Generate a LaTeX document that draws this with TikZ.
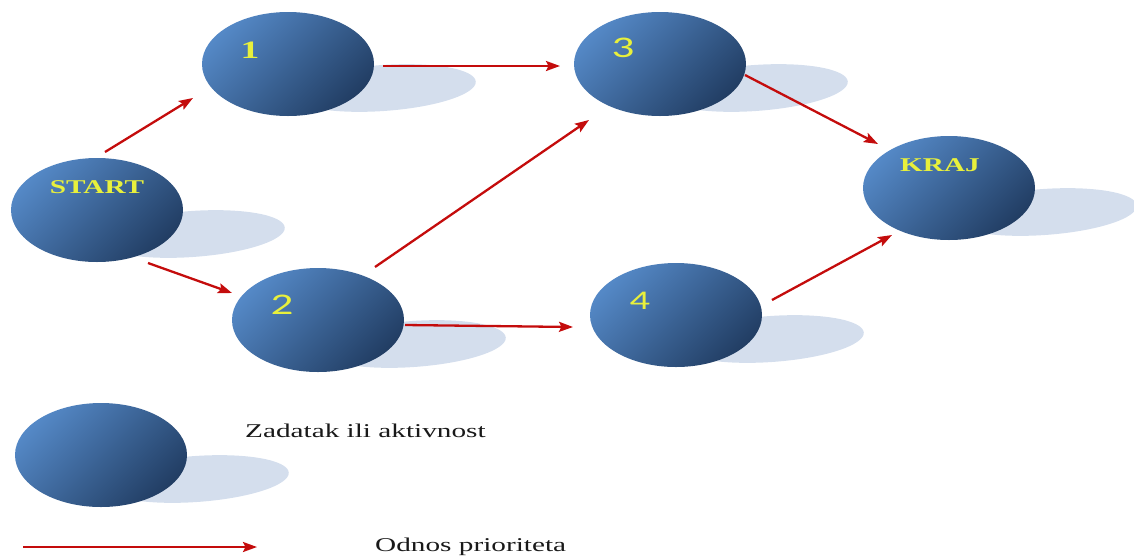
\documentclass[tikz,border=0pt]{standalone}
\usepackage{fontspec}
\setmainfont{Liberation Serif}
\newfontfamily\digitfont{Carlito}
\usetikzlibrary{arrows.meta,calc,shapes.geometric,backgrounds}
\definecolor{ballhi}{RGB}{84,136,198}
\definecolor{balllo}{RGB}{34,62,100}
\definecolor{shadowc}{RGB}{212,222,237}
\definecolor{arrowc}{RGB}{196,12,12}
\definecolor{lblc}{RGB}{232,240,60}
\definecolor{txtc}{RGB}{25,25,25}
\newcommand{\wide}[1]{\scalebox{1.5}[1]{#1}}
\begin{document}
\begin{tikzpicture}[x=1pt,y=-1pt,
  ball/.style={ellipse, inner sep=0pt, outer sep=0pt, minimum width=172pt,
    minimum height=104pt, top color=ballhi, bottom color=balllo, shading angle=45},
  shadowblob/.style={ellipse, inner sep=0pt, outer sep=0pt, fill=shadowc,
    minimum width=186pt, minimum height=46pt, rotate=4},
  lbl/.style={inner sep=0pt, text=lblc, font=\fontsize{19.5}{22}\selectfont\bfseries},
  numlbl/.style={inner sep=0pt, text=lblc, font=\fontsize{30}{32}\selectfont\digitfont},
  legtxt/.style={inner sep=0pt, anchor=base west, text=txtc, font=\fontsize{19.5}{22}\selectfont},
  arr/.style={draw=arrowc, line width=2.3pt, -{Stealth[length=14pt,width=10pt,inset=2.5pt]}}
]
\useasboundingbox (0,0) rectangle (1134,555);

% nodes
\node[ball] (s) at (97,210) {};
\node[ball] (n1) at (288,64) {};
\node[ball] (n3) at (660,64) {};
\node[ball] (k) at (949,188) {};
\node[ball] (n2) at (318,320) {};
\node[ball] (n4) at (676,315) {};
\node[ball] (leg) at (101,455) {};

% shadows
\begin{scope}[on background layer]
  \node[shadowblob] (s-sh) at ($(s.center)+(95,24)$) {};
  \node[shadowblob] (n1-sh) at ($(n1.center)+(95,24)$) {};
  \node[shadowblob] (n3-sh) at ($(n3.center)+(95,24)$) {};
  \node[shadowblob] (k-sh) at ($(k.center)+(95,24)$) {};
  \node[shadowblob] (n2-sh) at ($(n2.center)+(95,24)$) {};
  \node[shadowblob] (n4-sh) at ($(n4.center)+(95,24)$) {};
  \node[shadowblob] (leg-sh) at ($(leg.center)+(95,24)$) {};
\end{scope}

% labels
\node[lbl] (s-l) at ([shift={(0,-23)}]s.center) {\wide{START}};
\node[lbl] (k-l) at ([shift={(-9,-23)}]k.center) {\wide{KRAJ}};
\node[lbl, font=\fontsize{25}{28}\selectfont\bfseries] (n1-l) at ([shift={(-38,-14)}]n1.center) {\wide{1}};
\node[numlbl] (n2-l) at ([shift={(-36,-15)}]n2.center) {\wide{2}};
\node[numlbl] (n3-l) at ([shift={(-37,-16)}]n3.center) {\wide{3}};
\node[numlbl, font=\fontsize{27}{30}\selectfont\digitfont] (n4-l) at ([shift={(-36,-14)}]n4.center) {\wide{4}};

% connectors
\draw[arr] ([shift={(8,-58)}]s.center) -- ([shift={(-95,34)}]n1.center);
\draw[arr] ([shift={(51,53)}]s.center) -- ([shift={(-86,-27)}]n2.center);
\draw[arr] ([shift={(95,2)}]n1.center) -- ([shift={(-100,2)}]n3.center);
\draw[arr] ([shift={(57,-53)}]n2.center) -- ([shift={(-71,56)}]n3.center);
\draw[arr] ([shift={(87,5)}]n2.center) -- ([shift={(-103,12)}]n4.center);
\draw[arr] ([shift={(85,11)}]n3.center) -- ([shift={(-71,-44)}]k.center);
\draw[arr] ([shift={(96,-15)}]n4.center) -- ([shift={(-57,47)}]k.center);

% legend
\node[legtxt] (leg-t) at (245,437) {\wide{Zadatak ili aktivnost}};
\coordinate (la) at (23,547);
\coordinate (lb) at (257,547);
\draw[arr] (la) -- (lb);
\node[legtxt] (arr-t) at (375,551) {\wide{Odnos prioriteta}};
\end{tikzpicture}
\end{document}
